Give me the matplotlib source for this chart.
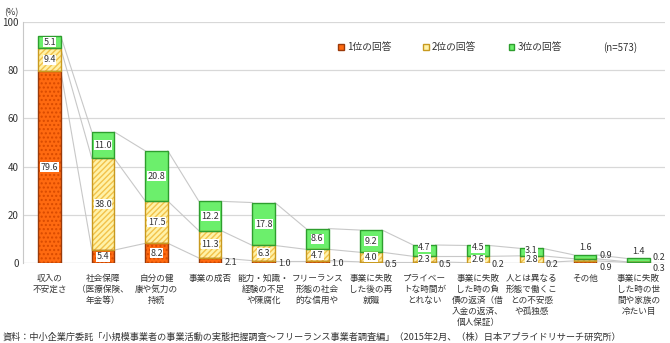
import numpy as np
import matplotlib
matplotlib.use("Agg")
import matplotlib.pyplot as plt
from matplotlib.patches import Patch

plt.rcParams['font.family'] = ['Noto Sans CJK JP', 'DejaVu Sans']

categories = [
    "収入の\n不安定さ",
    "社会保障\n（医療保険、\n年金等）",
    "自分の健\n康や気力の\n持続",
    "事業の成否",
    "能力・知識・\n経験の不足\nや陳腐化",
    "フリーランス\n形態の社会\n的な信用や",
    "事業に失敗\nした後の再\n就職",
    "プライベー\nトな時間が\nとれない",
    "事業に失敗\nした時の負\n債の返済（借\n入金の返済、\n個人保証）",
    "人とは異なる\n形態で働くこ\nとの不安感\nや孤独感",
    "その他",
    "事業に失敗\nした時の世\n間や家族の\n冷たい目",
]
first = [79.6, 5.4, 8.2, 2.1, 1.0, 1.0, 0.5, 0.5, 0.2, 0.2, 0.9, 0.3]
second = [9.4, 38.0, 17.5, 11.3, 6.3, 4.7, 4.0, 2.3, 2.6, 2.8, 0.9, 0.2]
third = [5.1, 11.0, 20.8, 12.2, 17.8, 8.6, 9.2, 4.7, 4.5, 3.1, 1.6, 1.4]
series_names = ["1位の回答", "2位の回答", "3位の回答"]
note = "(n=573)"
source = "資料：中小企業庁委託「小規模事業者の事業活動の実態把握調査～フリーランス事業者調査編」（2015年2月、（株）日本アプライドリサーチ研究所）"

fills = ["#FF6A10", "#FFF2A8", "#6CEF6C"]
hatch_cols = ["#D84A00", "#F2C24A", "#6CEF6C"]
edges = ["#9A3A0A", "#C89A20", "#2E9E2E"]
hatches = ["....", "//////", None]

fig = plt.figure(figsize=(6.7, 3.43), dpi=100)
ax = fig.add_axes([0.034, 0.233, 0.959, 0.703])

x = np.arange(len(categories))
w = 0.42
data = [np.array(first), np.array(second), np.array(third)]
bottoms = [np.zeros(len(x)), data[0], data[0] + data[1]]

# connector lines between stacked segments
for s in range(3):
    tops = bottoms[s] + data[s]
    for i in range(len(x) - 1):
        ax.plot([x[i] + w / 2, x[i + 1] - w / 2], [tops[i], tops[i + 1]],
                color="#C8C8C8", lw=0.8, zorder=1)
ax.plot([x[0] - 0.6, x[-1] + 0.6], [0, 0], color="#C8C8C8", lw=0.8, zorder=1)

for s in range(3):
    ax.bar(x, data[s], w, bottom=bottoms[s], color=fills[s], edgecolor=hatch_cols[s],
           hatch=hatches[s], lw=0, zorder=2)
    ax.bar(x, data[s], w, bottom=bottoms[s], fill=False, edgecolor=edges[s],
           lw=1.0, zorder=3)

txt = dict(fontsize=6.5, color="#333333", zorder=5)
box = dict(boxstyle="square,pad=0.05", fc="white", ec="none")
for i in range(len(x)):
    for s in range(3):
        v = data[s][i]
        yc = bottoms[s][i] + v / 2
        label = f"{v:.1f}"
        if s == 2 and 2.2 <= v < 5:
            # short green segment: label sits at its top edge
            ax.annotate(label, (x[i], bottoms[s][i] + v), xytext=(0, -1.5),
                        textcoords="offset points", ha="center", va="center",
                        bbox=box, **txt)
        elif v >= 2.2:
            ax.text(x[i], yc, label, ha="center", va="center", bbox=box, **txt)
        elif i >= 10:
            # tiny bars: green above, others to the right
            if s == 2:
                ax.annotate(label, (x[i], bottoms[s][i] + v), xytext=(0, 2),
                            textcoords="offset points", ha="center", va="bottom", **txt)
            elif s == 1:
                ax.annotate(label, (x[i] + w / 2, yc), xytext=(2, 3),
                            textcoords="offset points", ha="left", va="center", **txt)
            else:
                ax.annotate(label, (x[i] + w / 2, yc), xytext=(2, -4),
                            textcoords="offset points", ha="left", va="center", **txt)
        else:
            ax.annotate(label, (x[i] + w / 2, yc), xytext=(2, -1.5),
                        textcoords="offset points", ha="left", va="center", **txt)

ax.set_xlim(-0.5, len(x) - 0.5)
ax.set_ylim(0, 100)
ax.set_yticks(np.arange(0, 101, 20))
ax.yaxis.grid(True, color="#D8D8D8", lw=0.9)
ax.set_axisbelow(True)
ax.set_xticks([])
ax.tick_params(axis="y", length=0, labelsize=7, labelcolor="#333333", pad=3)
for sp in ["top", "right", "bottom"]:
    ax.spines[sp].set_visible(False)
ax.spines["left"].set_color("#C8C8C8")

for i, c in enumerate(categories):
    ax.text(x[i], -4.5, c, ha="center", va="top", fontsize=6.2, color="#333333",
            linespacing=1.3)

handles = [Patch(facecolor=fills[s], edgecolor=edges[s], lw=1.0) for s in range(3)]
ax.legend(handles, series_names, loc="center left", bbox_to_anchor=(0.477, 0.895),
          ncol=3, frameon=False, fontsize=7, handlelength=0.6, handleheight=0.6,
          handletextpad=0.3, columnspacing=3.3, labelcolor="#333333")
ax.text(0.903, 0.895, note, transform=ax.transAxes, ha="left", va="center",
        fontsize=7, color="#333333")

fig.text(0.006, 0.975, "(%)", ha="left", va="top", fontsize=6.5, color="#333333")
fig.text(0.004, 0.018, source, ha="left", va="center", fontsize=6.6, color="#333333")

fig.savefig("out.png", dpi=100)
